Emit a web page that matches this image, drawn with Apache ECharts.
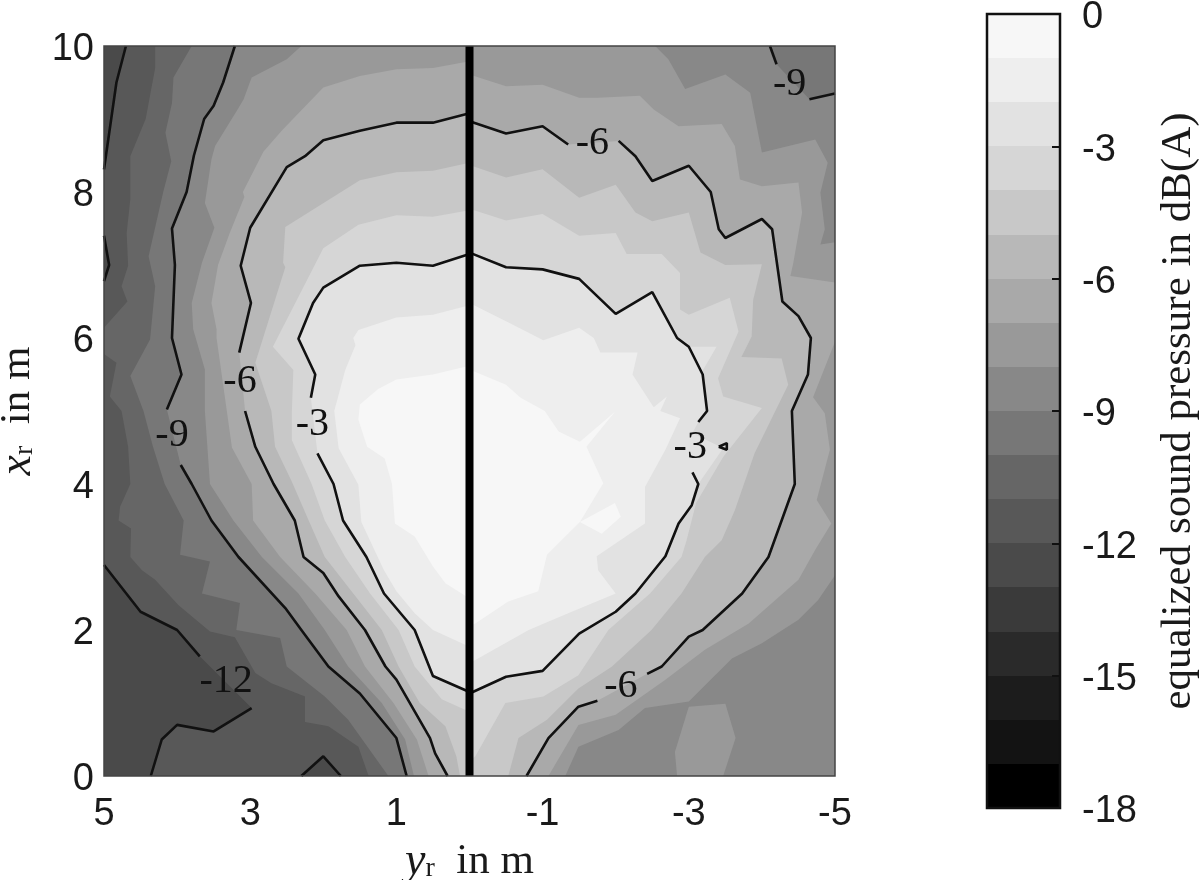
<!DOCTYPE html>
<html>
<head>
<meta charset="utf-8">
<script src="https://cdn.jsdelivr.net/npm/echarts@6/dist/echarts.min.js"></script>
<style>html,body{margin:0;background:#fff}#chart{width:1200px;height:880px}</style>
</head>
<body>
<div id="chart"></div>
<script>
// every point below is [y_r in m, x_r in m]

// contour lines, split where a label sits on them
var c3LeftA = [[0,7.15],[.5,6.99],[1,7.03],[1.5,6.99],[2,6.69],[2.14,6.48],[2.34,5.99],[2.11,5.5],[2.17,5.18]];
var c3LeftB = [[2.08,4.42],[1.86,4],[1.73,3.5],[1.41,3],[1.17,2.5],[.75,2],[.5,1.37],[0,1.15]];
var c3RightA = [[0,7.17],[-.5,6.97],[-1,6.94],[-1.5,6.81],[-2,6.33],[-2.5,6.63],[-2.84,6],[-3,5.88],[-3.19,5.5],[-3.25,5],[-3.13,4.85]];
var c3RightB = [[-3.05,4.16],[-3.13,4],[-3.04,3.71],[-2.86,3.46],[-2.68,3.01],[-2.27,2.5],[-2,2.25],[-1.5,1.95],[-1,1.44],[-.5,1.36],[0,1.13]];
var c3Spot = [[-3.41,4.51],[-3.52,4.56],[-3.52,4.47],[-3.41,4.51]];
var c6LeftA = [[0,9.08],[.5,8.95],[1,8.95],[1.5,8.84],[2,8.71],[2.25,8.49],[2.5,8.34],[3,7.51],[3.13,6.99],[2.99,6.48],[3.15,5.8]];
var c6LeftB = [[3.07,5],[2.93,4.51],[2.68,4],[2.39,3.5],[2.27,3],[2,2.78],[1.79,2.46],[1.43,2],[1.15,1.5],[1,1.32],[.54,.52],[.47,.31],[.3,0]];
var c6RightA = [[0,8.97],[-.5,8.8],[-1,8.9],[-1.35,8.65]];
var c6RightB = [[-2.04,8.7],[-2.27,8.49],[-2.5,8.15],[-3,8.36],[-3.3,8],[-3.41,7.49],[-3.5,7.37],[-4,7.63],[-4.14,7.49],[-4.28,6.5],[-4.5,6.3],[-4.67,6],[-4.63,5.5],[-4.41,5],[-4.45,4],[-4.09,3],[-3.73,2.5],[-3.19,2],[-3,1.91],[-2.63,1.5],[-2.43,1.4]];
var c6RightC = [[-1.75,1.03],[-1.49,.95],[-1.08,.52],[-.78,0]];
var c9LeftA = [[3.21,10],[3.37,9.5],[3.5,9.18],[3.63,9],[3.77,8.5],[3.87,8],[4.07,7.5],[4.03,7],[4.07,6],[3.94,5.5],[4.14,5.02]];
var c9LeftB = [[3.95,4.26],[3.8,4],[3.53,3.5],[3.16,3],[2.52,2.3],[2.3,2],[1.93,1.5],[1.5,1.13],[1,.52],[.86,0]];
var c9RightA = [[-4.11,10],[-4.2,9.75]];
var c9RightB = [[-4.65,9.27],[-5,9.35]];
var c12Corner = [[4.7,10],[4.83,9.5],[5,8.31]];
var c12Edge = [[5,7.4],[4.93,7],[5,6.78]];
var c12LowA = [[5,2.89],[4.5,2.25],[4,2],[3.69,1.64]];
var c12LowB = [[2.98,.93],[3.5,.61],[4,.7],[4.21,.5],[4.36,0]];
var c12Peak = [[2.3,0],[2,.27],[1.76,0]];

// filled bands, left of the centre line
var leftHalf = [[0,10],[5,10],[5,0],[0,0]];
var leftM11 = [[0,10],[4.3,10],[4.3,9.7],[4.43,9],[4.64,8.49],[4.64,7.9],[4.69,7.44],[4.67,6.99],[4.76,6.71],[4.68,6.5],[5,6.14],[5,5.78],[4.83,5.66],[4.92,5.2],[4.76,5],[4.67,4.51],[4.64,4],[4.78,3.69],[4.8,3.5],[4.63,3.39],[4.64,3],[4.48,2.82],[4.3,2.69],[3.98,2.34],[3.55,1.98],[3.21,1.9],[2.93,1.41],[2.71,1.27],[2.25,1.09],[2.25,.74],[1.93,.68],[1.52,.4],[1.38,0],[0,0]];
var leftM10 = [[0,10],[3.8,10],[4.05,9.57],[4.07,9.22],[4.16,8.81],[4.08,8.42],[4.19,8],[4.39,7.12],[4.3,6.71],[4.37,5.98],[4.64,5.48],[4.46,5],[4.33,4.51],[4.17,4],[3.91,3.5],[3.96,3.03],[3.55,2.94],[3.66,2.5],[3.14,2.37],[3.19,2],[2.59,1.89],[2.5,1.5],[1.98,1.09],[1.66,.77],[1.11,0],[0,0]];
var leftM8 = [[0,10],[2.3,10],[2.5,9.82],[2.98,9.57],[3.09,9.27],[3.16,9.15],[3.48,8.63],[3.53,8.45],[3.62,7.85],[3.49,7.51],[3.66,7.03],[3.8,6.48],[3.78,6.12],[3.62,5.57],[3.62,5],[3.55,4],[3.23,3.5],[2.84,3],[2.34,2.5],[1.98,2],[1.66,1.5],[1.2,1],[.88,.5],[.76,0],[0,0]];
var leftM7 = [[0,9.79],[.5,9.7],[1,9.68],[1.5,9.59],[2,9.43],[2.56,8.85],[2.82,8.55],[3.1,8],[3.08,7.93],[3.28,7.44],[3.44,7],[3.53,6.48],[3.46,6.12],[3.46,6],[3.32,5],[3.25,4.5],[2.98,4],[2.96,3.5],[2.59,3],[2.11,2.5],[1.68,2],[1.43,1.5],[1.04,1],[.72,.5],[.56,0],[0,0]];
var leftM5 = [[0,8.4],[.5,8.29],[1,8.27],[1.5,8.16],[1.98,7.86],[2.52,7.52],[2.55,7.03],[2.52,6.97],[2.93,5.66],[2.71,5],[2.66,4.51],[2.43,4.03],[2.2,3.5],[1.98,3],[1.59,2.5],[1.2,2],[.97,1.5],[.68,1],[.33,.68],[.18,.27],[.13,0],[0,0]];
var leftM4 = [[0,7.75],[.5,7.66],[1,7.68],[1.52,7.55],[2,7.23],[2.69,5.88],[2.41,5.56],[2.43,5],[2.43,4.6],[2.16,4],[1.98,3.5],[1.7,3],[1.36,2.5],[.97,2],[.75,1.5],[.38,1.05],[0,.88]];
var leftM2 = [[0,6.45],[.5,6.32],[1,6.28],[1.52,6.11],[1.59,6],[1.56,5.9],[1.7,5.56],[1.85,5],[1.79,4.49],[1.52,3.99],[1.48,3.48],[1.17,2.82],[1,2.53],[.75,2.23],[.5,2],[0,1.77]];
var leftM1 = [[0,5.62],[.5,5.5],[1,5.43],[1.25,5.3],[1.5,5.09],[1.52,4.88],[1.4,4.51],[1.16,4.35],[1.06,4],[1.02,3.46],[.75,3.28],[.5,2.87],[.33,2.64],[0,2.43]];

// filled bands, right of the centre line
var rightHalf = [[0,10],[-5,10],[-5,0],[0,0]];
var rightM8 = [[0,10],[-2.54,10],[-2.72,9.82],[-2.95,9.41],[-3.5,9.61],[-3.84,9.36],[-4,8.54],[-4.73,8.72],[-4.9,8.4],[-4.8,7.99],[-4.86,7.49],[-4.8,7.28],[-5,7.31],[-5,2.75],[-4.77,2.41],[-4.5,2.14],[-4,1.82],[-3.59,1.61],[-3,1.02],[-2.4,.93],[-2.04,.63],[-1.49,.4],[-1.31,0],[0,0]];
var rightM8Blob = [[-3,.95],[-3.5,.99],[-3.64,.52],[-3.47,0],[-2.84,0],[-2.81,.33]];
var rightM7 = [[0,9.61],[-.5,9.45],[-1,9.47],[-1.5,9.29],[-1.76,9.29],[-2.33,9.32],[-2.52,9.13],[-2.86,8.9],[-3.45,8.93],[-3.63,8.63],[-3.7,8.17],[-4,8.08],[-4.5,8.13],[-4.55,7.72],[-4.43,7.03],[-4.39,6.85],[-5,6.76],[-5,5.95],[-4.7,5.19],[-4.86,4.97],[-4.93,4.47],[-4.75,3.78],[-4.95,3.46],[-4.73,3.1],[-4.5,2.69],[-3.82,2.09],[-3.22,1.73],[-2.68,1.32],[-2,.84],[-1.49,.7],[-1.08,0],[0,0]];
var rightM5 = [[0,8.37],[-.5,8.2],[-1,8.31],[-1.5,7.92],[-2,8.1],[-2.27,7.72],[-2.5,7.6],[-3,7.72],[-3.16,7.17],[-3.5,7],[-4,7.01],[-3.88,6.52],[-3.86,6.02],[-3.72,5.74],[-4.27,5.72],[-4.36,5.36],[-3.9,4.42],[-3.63,3.64],[-3.45,3.23],[-3.22,3],[-2.9,2.5],[-2.49,2],[-2.22,1.75],[-1.95,1.5],[-1.49,1.2],[-1.06,.77],[-.67,.52],[-.53,0],[0,0]];
var rightM4 = [[0,7.77],[-.5,7.61],[-1,7.7],[-1.5,7.4],[-2,7.44],[-2.15,7.15],[-2.63,7.15],[-2.88,6.89],[-2.88,6.39],[-3,6.32],[-3.56,6.55],[-3.68,6.09],[-3.4,5.45],[-3.47,5.2],[-4,5.04],[-3.47,4.37],[-3.1,3.74],[-2.97,3.23],[-2.9,3],[-2.47,2.5],[-1.9,2],[-1.49,1.38],[-1.01,1.09],[-.49,1],[-.08,.27],[0,.2]];
var rightM3 = [[0,7.17],[-.5,6.97],[-1,6.94],[-1.5,6.81],[-2,6.33],[-2.5,6.63],[-2.84,6],[-3,5.88],[-3.38,5.88],[-3.17,5.52],[-3.25,5],[-3.13,4.85],[-3.05,4.7],[-3.47,4.49],[-3.13,4],[-3.04,3.71],[-2.86,3.46],[-2.68,3.01],[-2.27,2.5],[-2,2.25],[-1.5,1.95],[-1,1.44],[-.5,1.36],[0,1.13]];
var rightM2 = [[0,6.48],[-.5,6.23],[-1.01,5.97],[-1.5,6.14],[-1.7,6],[-1.79,5.8],[-2.3,5.8],[-2.23,5.5],[-2.52,5.05],[-2.7,5.2],[-2.61,5],[-2.88,4.9],[-2.68,4.47],[-2.4,3.96],[-2.4,3.46],[-1.74,3.01],[-1.76,2.82],[-2,2.5],[-1.35,2.23],[-.81,2],[-.08,1.59],[0,1.55]];
var rightM1 = [[0,5.57],[-.5,5.36],[-.7,5.18],[-1.03,5],[-1.22,4.72],[-1.51,4.58],[-1.99,4.99],[-1.6,4.51],[-1.83,4.01],[-1.51,3.48],[-1.99,3.74],[-2.07,3.55],[-1.81,3.32],[-1.51,3.48],[-1.06,3.03],[-.94,2.53],[-.53,2.39],[-.08,2.09],[0,2.05]];

var yrTicks = [-5, 5];
var xrTicks = [0, 10];
var centreLine = [[0,0],[0,10]];
var contourLabels = [[-4.38,9.47,'-9'],[-1.68,8.66,'-6'],[3.14,5.41,'-6'],[2.15,4.82,'-3'],[4.07,4.67,'-9'],[-3.02,4.5,'-3'],[3.33,1.3,'-12'],[-2.07,1.22,'-6']];

// colour bar: lower edge of each 1 dB band and its grey, from 0 down to -18
var barLevels = [-1,-2,-3,-4,-5,-6,-7,-8,-9,-10,-11,-12,-13,-14,-15,-16,-17,-18];
var greys = ['#f7f7f7','#eeeeee','#e2e2e2','#d6d6d6','#c8c8c8','#b8b8b8','#a9a9a9','#999999','#888888','#777777','#666666','#585858','#4a4a4a','#3a3a3a','#2a2a2a','#1c1c1c','#131313','#000000'];

function grey(level){ return greys[-level - 1]; }

// painted in this order, darker first
var fills = [
  [leftHalf,-12],[c12Corner.concat([[5,10]]),-13],[c12Edge,-13],[c12LowA.concat(c12LowB,[[5,0]]),-13],[c12Peak,-13],
  [leftM11,-11],[leftM10,-10],[[[0,10]].concat(c9LeftA,c9LeftB,[[0,0]]),-9],[leftM8,-8],[leftM7,-7],
  [c6LeftA.concat(c6LeftB,[[0,0]]),-6],[leftM5,-5],[leftM4,-4],[c3LeftA.concat(c3LeftB),-3],[leftM2,-2],[leftM1,-1],
  [rightHalf,-9],[c9RightA.concat(c9RightB,[[-5,10]]),-10],[rightM8,-8],[rightM8Blob,-8],[rightM7,-7],
  [c6RightA.concat(c6RightB,c6RightC,[[0,0]]),-6],[rightM5,-5],[rightM4,-4],[rightM3,-3],[rightM2,-2],[rightM1,-1]
];
var contours = [c3LeftA,c3LeftB,c3RightA,c3RightB,c3Spot,c6LeftA,c6LeftB,c6RightA,c6RightB,c6RightC,c9LeftA,c9LeftB,c9RightA,c9RightB,c12Corner,c12Edge,c12LowA,c12LowB,c12Peak];

var sans = '"Liberation Sans"';
var serif = '"Liberation Serif"';
var mathRich = {
  v: {fontFamily: serif, fontStyle: 'italic', fontSize: 46, color: '#1a1a1a'},
  s: {fontFamily: serif, fontSize: 28, color: '#1a1a1a', padding: [14, 0, 0, 0]},
  n: {fontFamily: serif, fontSize: 43, color: '#1a1a1a'}
};
// tick labels sit a little below the tick, as in the picture
var tickRich = {t: {fontFamily: sans, fontSize: 38, color: '#1a1a1a', padding: [8, 0, 0, 0]}};

var series = [{
  type: 'custom',
  silent: true,
  xAxisIndex: 0,
  yAxisIndex: 0,
  data: fills.map(function (f, i) { return [i]; }),
  renderItem: function (params, api) {
    var f = fills[params.dataIndex];
    return {
      type: 'polygon',
      shape: {points: f[0].map(function (p) { return api.coord(p); })},
      style: {fill: grey(f[1])}
    };
  }
}];
contours.forEach(function (c) {
  series.push({type: 'line', data: c, showSymbol: false, silent: true, z: 3, lineStyle: {color: '#111', width: 2.6}});
});
series.push({type: 'line', data: centreLine, showSymbol: false, silent: true, z: 4, lineStyle: {color: '#000', width: 8}});
series.push({
  type: 'scatter',
  data: contourLabels,
  symbolSize: 0,
  silent: true,
  z: 5,
  itemStyle: {opacity: 1},
  label: {
    show: true,
    position: 'inside',
    fontFamily: serif,
    fontSize: 40,
    color: '#111',
    formatter: function (p) { return p.value[2]; }
  }
});
series.push({
  type: 'custom',
  silent: true,
  xAxisIndex: 1,
  yAxisIndex: 1,
  data: barLevels.map(function (l) { return [0, l]; }),
  renderItem: function (params, api) {
    var l = api.value(1);
    var a = api.coord([0, l + 1]);
    var b = api.coord([1, l]);
    var top = Math.round(a[1]);
    return {type: 'rect', shape: {x: a[0], y: top, width: b[0] - a[0], height: Math.round(b[1]) - top}, style: {fill: grey(l)}};
  }
});

var chart = echarts.init(document.getElementById('chart'), null, {renderer: 'canvas'});
chart.setOption({
  animation: false,
  backgroundColor: '#fff',
  grid: [
    {left: 104, top: 46, width: 731, height: 730, outerBoundsMode: 'none', show: true, z: 10, borderColor: '#444', borderWidth: 1.5, backgroundColor: 'transparent'},
    {left: 987, top: 14, width: 73, height: 794, outerBoundsMode: 'none', show: true, z: 10, borderColor: '#111', borderWidth: 2.5, backgroundColor: 'transparent'}
  ],
  xAxis: [{
    type: 'value',
    gridIndex: 0,
    inverse: true,
    min: yrTicks[0],
    max: yrTicks[1],
    interval: 2,
    splitLine: {show: false},
    axisLine: {show: false},
    axisTick: {show: false},
    axisLabel: {fontFamily: sans, fontSize: 38, color: '#1a1a1a', margin: 20, showMinLabel: true, showMaxLabel: true},
    name: '{v|y}{s|r}{n|  in m}',
    nameLocation: 'middle',
    nameGap: 59,
    nameTextStyle: {rich: mathRich}
  }, {
    type: 'value',
    gridIndex: 1,
    min: 0,
    max: 1,
    show: false
  }],
  yAxis: [{
    type: 'value',
    gridIndex: 0,
    min: xrTicks[0],
    max: xrTicks[1],
    interval: 2,
    splitLine: {show: false},
    axisLine: {show: false},
    axisTick: {show: false},
    axisLabel: {margin: 10, formatter: '{t|{value}}', rich: tickRich, showMinLabel: true, showMaxLabel: true},
    name: '{v|x}{s|r}{n|  in m}',
    nameLocation: 'middle',
    nameRotate: 90,
    nameGap: 63,
    nameTextStyle: {rich: mathRich}
  }, {
    type: 'value',
    gridIndex: 1,
    position: 'right',
    min: -18,
    max: 0,
    interval: 3,
    z: 11,
    splitLine: {show: false},
    axisLine: {show: false, onZero: false},
    axisTick: {show: true, inside: true, length: 8, lineStyle: {color: '#111', width: 2}},
    axisLabel: {margin: 22, formatter: '{t|{value}}', rich: tickRich, showMinLabel: true, showMaxLabel: true},
    name: 'equalized sound pressure in dB(A)',
    nameLocation: 'middle',
    nameRotate: 90,
    nameGap: 97,
    nameTextStyle: {fontFamily: serif, fontSize: 43, color: '#1a1a1a'}
  }],
  series: series
});
</script>
</body>
</html>
